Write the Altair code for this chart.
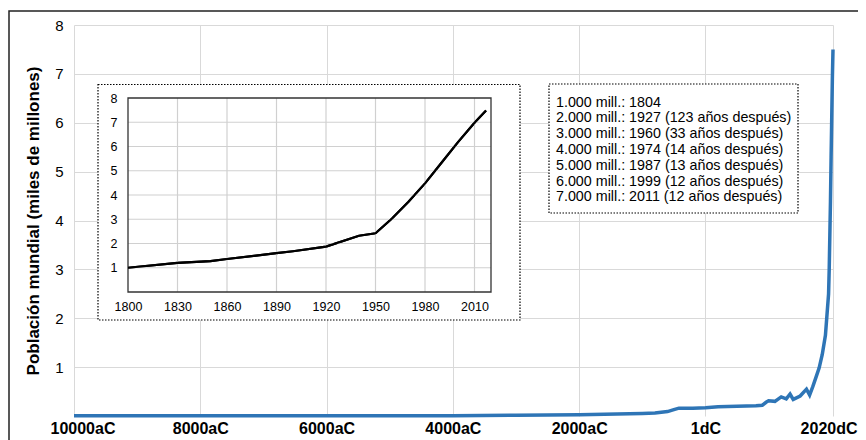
import altair as alt
import pandas as pd

# ---------------- data ----------------
years = [-10000, -9000, -8000, -7000, -6000, -5000, -4000, -3000, -2000, -1000,
         -800, -600, -500, -420, -200, 1, 200, 500, 800, 900, 960, 1000, 1100,
         1200, 1280, 1340, 1390, 1500, 1600, 1650, 1700, 1750, 1800, 1850, 1900,
         1950, 1960, 1970, 1980, 1990, 2000, 2010, 2020]
population = [0.004, 0.004, 0.005, 0.005, 0.005, 0.006, 0.007, 0.014, 0.027, 0.05,
              0.06, 0.09, 0.13, 0.16, 0.16, 0.17, 0.19, 0.2, 0.21, 0.22, 0.28, 0.31, 0.3,
              0.39, 0.35, 0.45, 0.34, 0.41, 0.55, 0.43, 0.6, 0.79, 0.98, 1.26, 1.65,
              2.5, 3.0, 3.7, 4.4, 5.3, 6.1, 6.9, 7.5]

x_tick_values = [-10000, -8000, -6000, -4000, -2000, 0, 2020]
x_tick_labels = ["10000aC", "8000aC", "6000aC", "4000aC", "2000aC", "1dC", "2020dC"]
y_tick_values = [1, 2, 3, 4, 5, 6, 7, 8]
main_x_domain = [-10000, 2020]
main_y_domain = [0, 8]

inset_years = [1800, 1830, 1850, 1860, 1890, 1900, 1920, 1940, 1950, 1960, 1970,
               1980, 1990, 2000, 2010, 2017]
inset_population = [1.0, 1.2, 1.27, 1.36, 1.6, 1.68, 1.87, 2.32, 2.42, 3.03, 3.72,
                    4.48, 5.33, 6.18, 6.98, 7.48]
inset_x_ticks = [1800, 1830, 1860, 1890, 1920, 1950, 1980, 2010]
inset_y_ticks = [1, 2, 3, 4, 5, 6, 7, 8]
inset_x_domain = [1800, 2020]
inset_y_domain = [0, 8]

milestones = [
    "1.000 mill.: 1804",
    "2.000 mill.: 1927 (123 años después)",
    "3.000 mill.: 1960 (33 años después)",
    "4.000 mill.: 1974 (14 años después)",
    "5.000 mill.: 1987 (13 años después)",
    "6.000 mill.: 1999 (12 años después)",
    "7.000 mill.: 2011 (12 años después)",
]

FONT = "Liberation Sans"
W, H = 759, 391
GRID = "#d9d9d9"

label_expr = ""
for v, l in zip(x_tick_values, x_tick_labels):
    label_expr += f"datum.value == {v} ? '{l}' : "
label_expr += "''"

one = pd.DataFrame({"k": [0]})

# ---------------- main chart ----------------
main_x = alt.Scale(domain=main_x_domain, nice=False, zero=False)
main_y = alt.Scale(domain=main_y_domain, nice=False)

main = alt.Chart(pd.DataFrame({"year": years, "pop": population})).mark_line(
    color="#2E75B6", strokeWidth=3.5
).encode(
    x=alt.X("year:Q", scale=main_x, axis=alt.Axis(
        values=x_tick_values, labelExpr=label_expr, grid=True, gridColor=GRID,
        domain=False, ticks=False, labelFlush=True, labelFlushOffset=24,
        labelOverlap=False,
        labelFont=FONT, labelFontSize=16, labelFontWeight="bold",
        labelColor="black", labelPadding=4, title=None)),
    y=alt.Y("pop:Q", scale=main_y, axis=alt.Axis(
        values=y_tick_values, grid=True, gridColor=GRID, domain=False, ticks=False,
        labelFont=FONT, labelFontSize=15, labelColor="black", labelPadding=11,
        title="Población mundial (miles de millones)", titleFont=FONT,
        titleFontSize=17, titleFontWeight="bold", titleColor="black",
        titlePadding=12)),
)

frame = alt.Chart(one).mark_rect(
    fillOpacity=0, stroke="#222222", strokeWidth=1.5
).encode(x=alt.value(-65), x2=alt.value(900), y=alt.value(-14), y2=alt.value(600))

# ---------------- inset ----------------
in_x = alt.Scale(domain=inset_x_domain, range=[54, 417], nice=False, zero=False)
in_y = alt.Scale(domain=inset_y_domain, range=[267, 73], nice=False)

inset_box = alt.Chart(one).mark_rect(
    fill="white", stroke="black", strokeWidth=1.2, strokeDash=[1.5, 1.5]
).encode(x=alt.value(24), x2=alt.value(446), y=alt.value(59.5), y2=alt.value(295))

inset_line = alt.Chart(pd.DataFrame({"year": inset_years, "pop": inset_population})).mark_line(
    color="black", strokeWidth=2.2
).encode(
    x=alt.X("year:Q", scale=in_x, axis=alt.Axis(
        orient="bottom", offset=-124, values=inset_x_ticks, format="d", grid=False,
        domain=False, ticks=False, labelFlush=False, labelOverlap=False,
        labelFont=FONT, labelFontSize=12.5, labelColor="black",
        labelPadding=8, title=None, zindex=2)),
    y=alt.Y("pop:Q", scale=in_y, axis=alt.Axis(
        orient="left", offset=-54, values=inset_y_ticks, grid=False,
        domain=False, ticks=False, labelFont=FONT, labelFontSize=12.5,
        labelColor="black", labelPadding=11, title=None, zindex=2)),
)

v_df = pd.DataFrame({"t": inset_x_ticks[1:],
                     "lo": [inset_y_domain[0]] * (len(inset_x_ticks) - 1),
                     "hi": [inset_y_domain[1]] * (len(inset_x_ticks) - 1)})
v_rules = alt.Chart(v_df).mark_rule(color="#d0d0d0", strokeWidth=1.2).encode(
    x="t:Q", y="lo:Q", y2="hi:Q")

h_df = pd.DataFrame({"v": inset_y_ticks[:-1],
                     "a": [inset_x_domain[0]] * (len(inset_y_ticks) - 1),
                     "b": [inset_x_domain[1]] * (len(inset_y_ticks) - 1)})
h_rules = alt.Chart(h_df).mark_rule(color="#d0d0d0", strokeWidth=1.2).encode(
    y="v:Q", x="a:Q", x2="b:Q")

f_df = pd.DataFrame({"x0": [inset_x_domain[0]], "x1": [inset_x_domain[1]],
                     "y0": [inset_y_domain[0]], "y1": [inset_y_domain[1]]})
inset_frame = alt.Chart(f_df).mark_rect(
    fillOpacity=0, stroke="#333333", strokeWidth=1.3
).encode(x="x0:Q", x2="x1:Q", y="y0:Q", y2="y1:Q")

inset = alt.layer(inset_line, v_rules, h_rules, inset_frame, inset_line.mark_line(
    color="black", strokeWidth=2.2))

# ---------------- milestones box ----------------
text_box = alt.Chart(one).mark_rect(
    fill="white", stroke="black", strokeWidth=1.2, strokeDash=[1.5, 1.5]
).encode(x=alt.value(475), x2=alt.value(724), y=alt.value(59), y2=alt.value(188))

text = alt.Chart(one).mark_text(
    align="left", baseline="top", font=FONT, fontSize=14.3, lineHeight=15.8,
    color="black"
).encode(x=alt.value(482), y=alt.value(70.5), text=alt.value(milestones))

chart = alt.layer(
    main, frame, inset_box, inset, text_box, text
).resolve_scale(
    x="independent", y="independent"
).properties(
    width=W, height=H,
    autosize=alt.AutoSizeParams(type="none"),
    padding={"left": 66, "top": 17, "right": 25, "bottom": 24},
).configure_view(strokeWidth=0)

chart.save("out.html", embed_options={"renderer": "svg", "actions": False})
